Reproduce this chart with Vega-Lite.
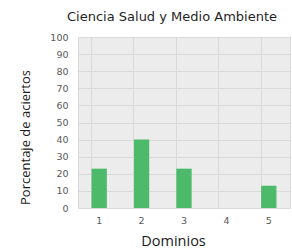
{
  "$schema": "https://vega.github.io/schema/vega-lite/v6.json",
  "width": 212,
  "height": 171,
  "autosize": "none",
  "padding": {"left": 78, "top": 37, "right": 2, "bottom": 41},
  "background": "#ffffff",
  "title": {
    "text": "Ciencia Salud y Medio Ambiente",
    "font": "DejaVu Sans",
    "fontSize": 13,
    "fontWeight": "normal",
    "color": "#1f1f1f",
    "anchor": "middle",
    "dx": -12,
    "offset": 8
  },
  "data": {
    "values": [
      {"dominio": "1", "porcentaje": 23},
      {"dominio": "2", "porcentaje": 40},
      {"dominio": "3", "porcentaje": 23},
      {"dominio": "4", "porcentaje": 0},
      {"dominio": "5", "porcentaje": 13}
    ]
  },
  "mark": {"type": "bar", "color": "#4db96b"},
  "encoding": {
    "x": {
      "field": "dominio",
      "type": "ordinal",
      "scale": {"paddingInner": 0.64, "paddingOuter": 0.32},
      "axis": {
        "title": "Dominios",
        "labelAngle": 0,
        "bandPosition": 0,
        "labelPadding": 7,
        "grid": true,
        "gridColor": "#d9d9d9",
        "ticks": false,
        "domain": false,
        "labelFont": "DejaVu Sans",
        "labelFontSize": 9.5,
        "labelColor": "#595959",
        "titleFont": "Open Sans",
        "titleFontSize": 14.5,
        "titleFontWeight": "normal",
        "titleColor": "#1a1a1a",
        "titleX": 95,
        "titleY": 37.5,
        "titleAlign": "center",
        "titleBaseline": "alphabetic"
      }
    },
    "y": {
      "field": "porcentaje",
      "type": "quantitative",
      "scale": {"domain": [0, 100]},
      "axis": {
        "title": "Porcentaje de aciertos",
        "values": [0, 10, 20, 30, 40, 50, 60, 70, 80, 90, 100],
        "grid": true,
        "gridColor": "#d9d9d9",
        "ticks": false,
        "domain": false,
        "labelPadding": 10,
        "labelFont": "DejaVu Sans",
        "labelFontSize": 9.5,
        "labelColor": "#595959",
        "titleFont": "Open Sans",
        "titleFontSize": 13,
        "titleFontWeight": "normal",
        "titleColor": "#1a1a1a",
        "titleX": -53,
        "titleY": 100,
        "titleAngle": -90,
        "titleAlign": "center",
        "titleBaseline": "middle"
      }
    }
  },
  "config": {
    "view": {"stroke": "#d9d9d9", "fill": "#ececec"}
  }
}
